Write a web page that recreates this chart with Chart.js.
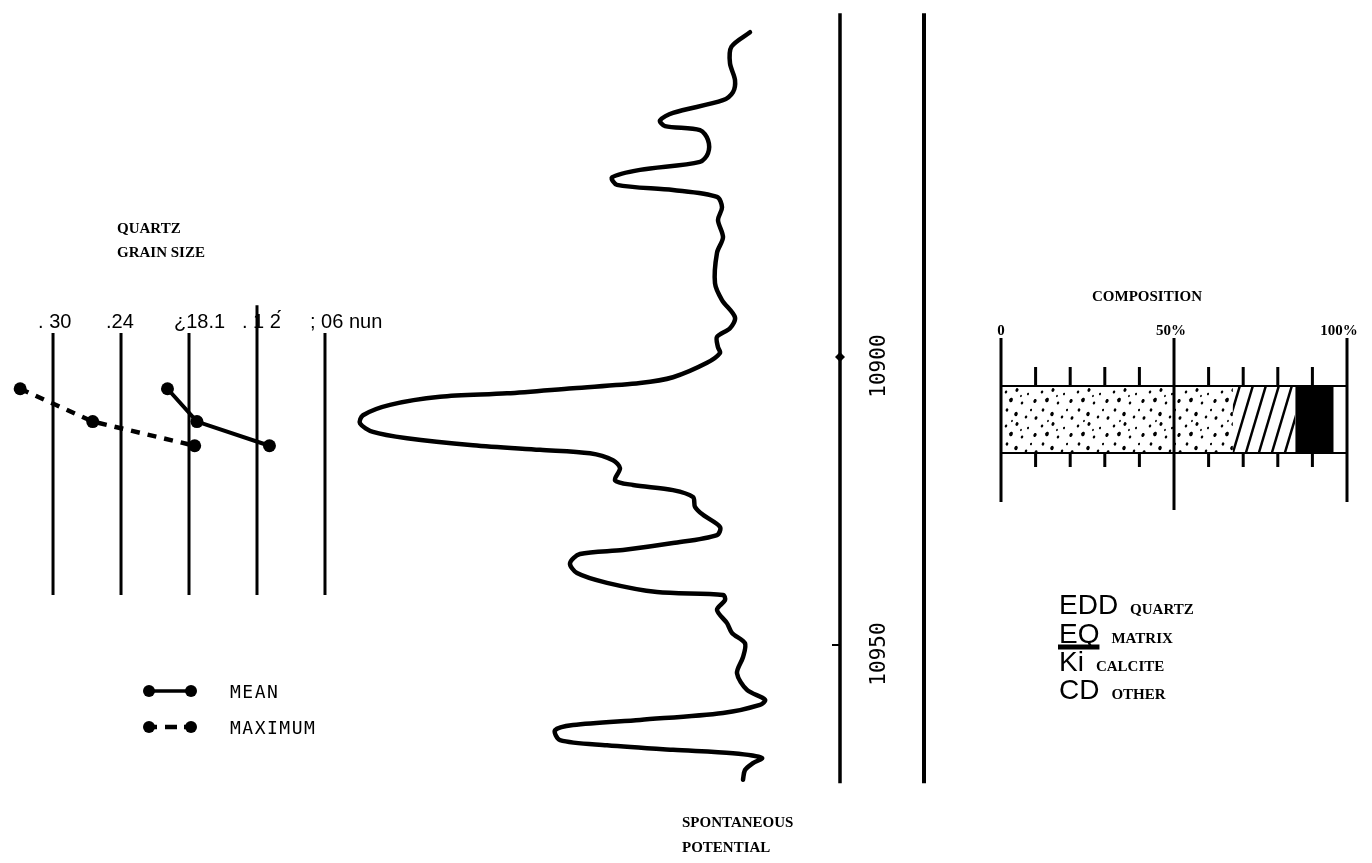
<!DOCTYPE html>
<html>
<head>
<meta charset="utf-8">
<script src="https://cdn.jsdelivr.net/npm/chart.js@4.4.1/dist/chart.umd.min.js"></script>
<style>
  body { margin: 0; background: #fff; }
  #page { position: relative; width: 1372px; height: 863px; overflow: hidden; background: #fff; }
  canvas { position: absolute; }
  #grainChart { left: 0; top: 0; }
  #spChart { left: 340px; top: 0; }
  #compChart { left: 980px; top: 260px; }
</style>
</head>
<body>
<div id="page">
  <canvas id="grainChart" width="400" height="863"></canvas>
  <canvas id="spChart" width="600" height="863"></canvas>
  <canvas id="compChart" width="392" height="480"></canvas>
</div>
<script>
// grain size samples (mm) against depth (ft)
const sampleDepths = [10905.5, 10911.2, 10915.4];
const meanSize = [0.199, 0.173, 0.109];
const maxSize = [0.329, 0.265, 0.175];
const sizeTicks = [0.30, 0.24, 0.18, 0.12, 0.06];
const sizeTickLabels = [". 30", ".24", "¿18.1", ". 1 2́", "; 06 nun"];

// spontaneous potential log
const spDepths = [
  10843.6, 10846.1, 10849.0, 10851.9, 10854.0, 10855.4, 10857.6, 10858.9, 10859.9, 10860.6,
  10862.3, 10864.6, 10866.1, 10867.5, 10868.8, 10870.1, 10871.0, 10872.2, 10874.0, 10876.2,
  10879.2, 10881.9, 10887.2, 10890.1, 10893.1, 10895.0, 10896.5, 10898.3, 10899.3, 10901.0,
  10903.5, 10904.5, 10905.4, 10906.3, 10906.9, 10908.3, 10910.1, 10911.5, 10913.0, 10914.1,
  10915.3, 10916.1, 10916.7, 10917.9, 10919.3, 10921.4, 10922.2, 10923.1, 10924.3, 10926.0,
  10927.4, 10929.5, 10930.9, 10932.3, 10933.5, 10934.2, 10935.8, 10937.5, 10939.2, 10940.8,
  10941.3, 10942.2, 10943.9, 10946.2, 10947.9, 10949.7, 10952.1, 10954.9, 10957.8, 10959.5,
  10960.4, 10961.8, 10963.0, 10963.9, 10964.8, 10966.5, 10967.4, 10968.2, 10968.8, 10969.6,
  10970.5, 10971.7, 10973.4,
];
const spValues = [
  82.0, 78.3, 78.0, 79.0, 78.6, 76.6, 66.6, 64.0, 65.0, 72.0,
  73.6, 73.6, 72.0, 60.0, 54.4, 55.4, 66.6, 75.4, 76.4, 75.6,
  76.6, 75.4, 75.0, 76.4, 79.0, 78.0, 75.4, 75.6, 76.0, 73.4,
  66.6, 60.0, 46.6, 33.4, 20.0, 10.0, 4.6, 4.0, 6.6, 13.4,
  26.6, 40.0, 50.0, 54.6, 56.0, 55.0, 58.6, 66.6, 70.6, 71.0,
  72.6, 76.0, 75.4, 66.6, 56.6, 48.0, 46.0, 47.4, 53.4, 63.4,
  76.6, 77.0, 75.4, 77.4, 78.4, 81.0, 80.6, 79.4, 81.4, 85.0,
  84.0, 76.6, 60.0, 46.6, 43.0, 44.0, 53.4, 66.6, 78.6, 84.4,
  82.6, 81.0, 80.6,
];
const depthTicks = [10900, 10950];

// composition (%)
const compLabels = ["QUARTZ", "MATRIX", "CALCITE", "OTHER"];
const compSymbols = ["EDD", "EQ", "Ki", "CD"];
const compValues = [67, 18, 11, 4];
const compTicks = [0, 10, 20, 30, 40, 50, 60, 70, 80, 90, 100];
const compTickLabels = { 0: "0", 50: "50%", 100: "100%" };

Chart.defaults.animation = false;
Chart.defaults.responsive = false;
Chart.defaults.events = [];
Chart.defaults.plugins.legend.display = false;
Chart.defaults.plugins.tooltip.enabled = false;

const depthScale = { type: "linear", min: 10838.0, max: 10987.85, reverse: true, display: false };
const serifBold = 'bold 15px "Liberation Serif"';

const grainFrame = {
  id: "grainFrame",
  beforeDatasetsDraw(chart) {
    const ctx = chart.ctx;
    const xs = chart.scales.x;
    const ys = chart.scales.y;
    ctx.save();
    ctx.strokeStyle = "#000";
    ctx.lineWidth = 3;
    sizeTicks.forEach((v, i) => {
      const px = xs.getPixelForValue(v);
      ctx.beginPath();
      ctx.moveTo(px, ys.getPixelForValue(i === 3 ? 10891.0 : 10895.8));
      ctx.lineTo(px, ys.getPixelForValue(10941.3));
      ctx.stroke();
    });
    ctx.fillStyle = "#000";
    ctx.font = '20px "Liberation Sans"';
    sizeTicks.forEach((v, i) => {
      ctx.fillText(sizeTickLabels[i], xs.getPixelForValue(v) - 15, 328);
    });
    ctx.restore();
  },
  afterDatasetsDraw(chart) {
    const ctx = chart.ctx;
    ctx.save();
    ctx.fillStyle = "#000";
    ctx.strokeStyle = "#000";
    ctx.font = serifBold;
    ctx.fillText("QUARTZ", 117, 233);
    ctx.fillText("GRAIN SIZE", 117, 257);

    // legend
    const rows = [
      { y: 691, text: "MEAN", dashed: false },
      { y: 727, text: "MAXIMUM", dashed: true },
    ];
    rows.forEach((r) => {
      ctx.lineWidth = r.dashed ? 4.5 : 3.5;
      ctx.beginPath();
      if (r.dashed) {
        ctx.moveTo(149, r.y);
        ctx.lineTo(157, r.y);
        ctx.moveTo(165, r.y);
        ctx.lineTo(177, r.y);
        ctx.moveTo(184, r.y);
        ctx.lineTo(191, r.y);
      } else {
        ctx.moveTo(149, r.y);
        ctx.lineTo(191, r.y);
      }
      ctx.stroke();
      [149, 191].forEach((cx) => {
        ctx.beginPath();
        ctx.arc(cx, r.y, 6, 0, Math.PI * 2);
        ctx.fill();
      });
      ctx.font = '18px "DejaVu Sans Mono"';
      ctx.letterSpacing = "1.5px";
      ctx.fillText(r.text, 230, r.y + 7);
      ctx.letterSpacing = "0px";
    });
    ctx.restore();
  },
};

new Chart(document.getElementById("grainChart"), {
  type: "scatter",
  data: {
    datasets: [
      {
        label: "MEAN",
        data: sampleDepths.map((d, i) => ({ x: meanSize[i], y: d })),
        showLine: true,
        borderColor: "#000",
        backgroundColor: "#000",
        borderWidth: 4,
        pointRadius: 6.5,
        pointBorderWidth: 0,
      },
      {
        label: "MAXIMUM",
        data: sampleDepths.map((d, i) => ({ x: maxSize[i], y: d })),
        showLine: true,
        borderColor: "#000",
        backgroundColor: "#000",
        borderWidth: 4.5,
        borderDash: [9, 8],
        pointRadius: 6.5,
        pointBorderWidth: 0,
      },
    ],
  },
  options: {
    layout: { padding: 0, autoPadding: false },
    scales: {
      x: { type: "linear", min: -0.0062, max: 0.3468, reverse: true, display: false },
      y: depthScale,
    },
  },
  plugins: [grainFrame],
});

const depthFrame = {
  id: "depthFrame",
  afterDatasetsDraw(chart) {
    const ctx = chart.ctx;
    const ys = chart.scales.y;
    const top = ys.getPixelForValue(10840.3);
    const bottom = ys.getPixelForValue(10974.0);
    ctx.save();
    ctx.strokeStyle = "#000";
    ctx.fillStyle = "#000";
    ctx.lineWidth = 3.5;
    ctx.beginPath();
    ctx.moveTo(500, top);
    ctx.lineTo(500, bottom);
    ctx.stroke();
    ctx.lineWidth = 4;
    ctx.beginPath();
    ctx.moveTo(584, top);
    ctx.lineTo(584, bottom);
    ctx.stroke();

    depthTicks.forEach((d, i) => {
      const py = ys.getPixelForValue(d);
      if (i === 0) {
        ctx.beginPath();
        ctx.moveTo(495, py);
        ctx.lineTo(500, py - 5);
        ctx.lineTo(505, py);
        ctx.lineTo(500, py + 5);
        ctx.closePath();
        ctx.fill();
      } else {
        ctx.lineWidth = 2;
        ctx.beginPath();
        ctx.moveTo(492, py);
        ctx.lineTo(500, py);
        ctx.stroke();
      }
      ctx.save();
      ctx.translate(540, py + 9);
      ctx.rotate(-Math.PI / 2);
      ctx.font = '21px "DejaVu Sans Mono"';
      ctx.textAlign = "center";
      ctx.textBaseline = "middle";
      ctx.fillText(String(d), 0, 0);
      ctx.restore();
    });

    ctx.font = serifBold;
    ctx.fillText("SPONTANEOUS", 342, 827);
    ctx.fillText("POTENTIAL", 342, 852);
    ctx.restore();
  },
};

new Chart(document.getElementById("spChart"), {
  type: "scatter",
  data: {
    datasets: [
      {
        label: "SP",
        data: spDepths.map((d, i) => ({ x: spValues[i], y: d })),
        showLine: true,
        borderColor: "#000",
        borderWidth: 4.5,
        borderCapStyle: "round",
        borderJoinStyle: "round",
        pointRadius: 0,
        tension: 0.3,
      },
    ],
  },
  options: {
    layout: { padding: 0, autoPadding: false },
    scales: {
      x: { type: "linear", min: 0, max: 120, display: false },
      y: depthScale,
    },
  },
  plugins: [depthFrame],
});

const dotTile = [
  [3, 4, 1.2], [14, 2, 1.5], [25, 6, 1], [32, 13, 1.6], [8, 12, 1.8], [19, 15, 1.2], [28, 22, 1],
  [4, 22, 1.3], [13, 26, 1.7], [23, 29, 1.2], [33, 30, 1.4], [9, 33, 0.9], [18, 8, 0.9],
];

function barRect(chart, index) {
  const el = chart.getDatasetMeta(index).data[0];
  const p = el.getProps(["x", "y", "base", "height"], true);
  return {
    left: Math.min(p.x, p.base),
    right: Math.max(p.x, p.base),
    top: p.y - p.height / 2,
    bottom: p.y + p.height / 2,
  };
}

const compFrame = {
  id: "compFrame",
  afterDatasetsDraw(chart) {
    const ctx = chart.ctx;
    const xs = chart.scales.x;
    const area = chart.chartArea;
    ctx.save();
    ctx.fillStyle = "#000";
    ctx.strokeStyle = "#000";

    // quartz dots
    let r = barRect(chart, 0);
    ctx.save();
    ctx.beginPath();
    ctx.rect(r.left, r.top, r.right - r.left, r.bottom - r.top);
    ctx.clip();
    for (let ty = r.top + 2; ty < r.bottom; ty += 34) {
      for (let tx = r.left + 2; tx < r.right; tx += 36) {
        dotTile.forEach(([dx, dy, rad]) => {
          ctx.beginPath();
          ctx.ellipse(tx + dx, ty + dy, rad, rad * 1.3, 0.4, 0, Math.PI * 2);
          ctx.fill();
        });
      }
    }
    ctx.restore();

    // matrix hatching
    r = barRect(chart, 1);
    ctx.save();
    ctx.beginPath();
    ctx.rect(r.left, r.top, r.right - r.left, r.bottom - r.top);
    ctx.clip();
    ctx.lineWidth = 2.5;
    for (let hx = r.left - 26; hx < r.right; hx += 13) {
      ctx.beginPath();
      ctx.moveTo(hx, r.bottom);
      ctx.lineTo(hx + 20, r.top);
      ctx.stroke();
    }
    ctx.restore();

    // bar outline
    const x0 = xs.getPixelForValue(0);
    const x100 = xs.getPixelForValue(100);
    ctx.lineWidth = 2;
    ctx.beginPath();
    ctx.moveTo(x0, area.top);
    ctx.lineTo(x100, area.top);
    ctx.moveTo(x0, area.bottom);
    ctx.lineTo(x100, area.bottom);
    ctx.stroke();

    // scale lines and ticks
    ctx.lineWidth = 3;
    compTicks.forEach((v) => {
      const px = xs.getPixelForValue(v);
      ctx.beginPath();
      if (v % 50 === 0) {
        ctx.moveTo(px, 78);
        ctx.lineTo(px, v === 50 ? 250 : 242);
      } else {
        ctx.moveTo(px, 107);
        ctx.lineTo(px, area.top);
        ctx.moveTo(px, area.bottom);
        ctx.lineTo(px, 207);
      }
      ctx.stroke();
    });

    ctx.font = serifBold;
    ctx.textAlign = "center";
    ctx.fillText("COMPOSITION", 167, 41);
    Object.keys(compTickLabels).forEach((k) => {
      const v = Number(k);
      const shift = v === 100 ? -8 : v === 50 ? -3 : 0;
      ctx.fillText(compTickLabels[k], xs.getPixelForValue(v) + shift, 75);
    });

    // legend
    ctx.textAlign = "left";
    const rowBase = [354, 383, 411, 439];
    compSymbols.forEach((s, i) => {
      ctx.font = '28px "Liberation Sans"';
      ctx.fillText(s, 79, rowBase[i]);
      const w = ctx.measureText(s).width;
      if (i === 1) {
        ctx.lineWidth = 5;
        ctx.beginPath();
        ctx.moveTo(78, rowBase[i] + 4);
        ctx.lineTo(79 + w, rowBase[i] + 4);
        ctx.stroke();
      }
      ctx.font = serifBold;
      ctx.fillText(compLabels[i], 79 + w + 12, rowBase[i]);
    });
    ctx.restore();
  },
};

new Chart(document.getElementById("compChart"), {
  type: "bar",
  data: {
    labels: [""],
    datasets: compValues.map((v, i) => ({
      label: compLabels[i],
      data: [v],
      backgroundColor: i === 2 ? "#000" : "#fff",
      borderWidth: 0,
      categoryPercentage: 1,
      barPercentage: 1,
    })),
  },
  options: {
    indexAxis: "y",
    layout: { padding: { left: 21, right: 25, top: 126, bottom: 287 }, autoPadding: false },
    scales: {
      x: { stacked: true, min: 0, max: 100, display: false },
      y: { stacked: true, display: false },
    },
  },
  plugins: [compFrame],
});
</script>
</body>
</html>
